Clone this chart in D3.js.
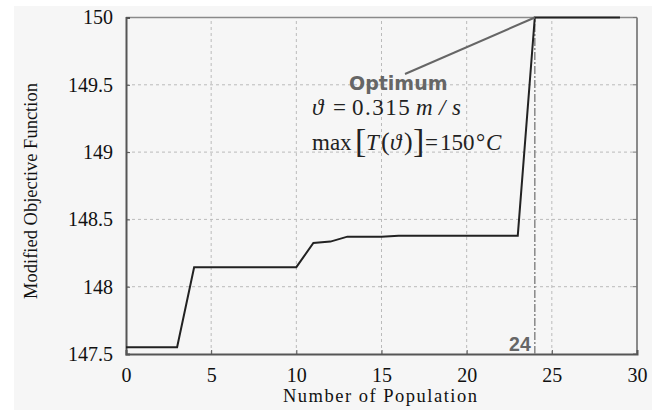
<!DOCTYPE html>
<head>
    <meta charset="utf-8">
    <script src="https://d3js.org/d3.v7.min.js"></script>
    <style>
        body {
            margin: 0;
            background: #ffffff;
        }
    </style>
</head>

<body>
<svg id="graph" width=661 height=410></svg>
<script>

    // population index and best objective value found so far
    const population = [0, 1, 2, 3, 4, 5, 6, 7, 8, 9, 10, 11, 12, 13, 14, 15,
        16, 17, 18, 19, 20, 21, 22, 23, 24, 25, 26, 27, 28, 29];
    const objective = [147.55, 147.55, 147.55, 147.55,
        148.145, 148.145, 148.145, 148.145, 148.145, 148.145, 148.145,
        148.325, 148.335, 148.372, 148.372, 148.372,
        148.379, 148.379, 148.379, 148.379, 148.379, 148.379, 148.379, 148.379,
        150, 150, 150, 150, 150, 150];

    const xTicks = [0, 5, 10, 15, 20, 25, 30];
    const yTicks = [147.5, 148, 148.5, 149, 149.5, 150];
    const optimumX = 24;
    const optimumY = 150;
    const pointerFrom = [16.38, 149.58];

    const serif = "'Liberation Serif', 'Times New Roman', serif";
    const margin = {top: 17.5, right: 24, bottom: 56, left: 126};
    const W = 661, H = 410;

    const svg = d3.select("#graph");

    // grey page panel
    svg.append("rect")
        .attr("x", 14).attr("y", 6)
        .attr("width", 638).attr("height", 404)
        .attr("fill", "#f6f6f6");

    const x = d3.scaleLinear()
        .domain([0, 30])
        .range([margin.left, W - margin.right]);

    const y = d3.scaleLinear()
        .domain([147.5, 150])
        .range([H - margin.bottom, margin.top]);

    // grid
    svg.append("g").selectAll("line")
        .data(xTicks.slice(1, -1)).enter()
        .append("line")
        .attr("x1", d => x(d)).attr("x2", d => x(d))
        .attr("y1", y(147.5)).attr("y2", y(150))
        .attr("stroke", "#bbb").attr("stroke-width", 1)
        .attr("stroke-dasharray", "3,3");

    svg.append("g").selectAll("line")
        .data(yTicks.slice(1, -1)).enter()
        .append("line")
        .attr("x1", x(0)).attr("x2", x(30))
        .attr("y1", d => y(d)).attr("y2", d => y(d))
        .attr("stroke", "#bbb").attr("stroke-width", 1)
        .attr("stroke-dasharray", "3,3");

    // frame: top/right lighter, left/bottom darker
    svg.append("line")
        .attr("x1", x(0)).attr("x2", x(30))
        .attr("y1", y(150)).attr("y2", y(150))
        .attr("stroke", "#8a8a8a").attr("stroke-width", 1.5);
    svg.append("line")
        .attr("x1", x(30)).attr("x2", x(30))
        .attr("y1", y(150)).attr("y2", y(147.5))
        .attr("stroke", "#8a8a8a").attr("stroke-width", 2);

    // inward ticks on right side
    svg.append("g").selectAll("line")
        .data(yTicks).enter()
        .append("line")
        .attr("x1", x(30) - 4).attr("x2", x(30))
        .attr("y1", d => y(d)).attr("y2", d => y(d))
        .attr("stroke", "#777");

    const xAxis = d3.axisBottom(x).tickValues(xTicks).tickSize(-4)
        .tickFormat(d => String(d));
    const yAxis = d3.axisLeft(y).tickValues(yTicks).tickSize(-4).tickPadding(13)
        .tickFormat(d => String(d));

    const gx = svg.append("g")
        .attr("transform", "translate(0," + y(147.5) + ")")
        .call(xAxis);
    const gy = svg.append("g")
        .attr("transform", "translate(" + x(0) + ",0)")
        .call(yAxis);

    [gx, gy].forEach(function (g) {
        g.select(".domain").attr("stroke", "#555").attr("stroke-width", 2);
        g.selectAll(".tick line").attr("stroke", "#555");
        g.selectAll(".tick text")
            .attr("fill", "#111")
            .style("font-family", serif)
            .style("font-size", "20px");
    });
    gx.selectAll(".tick text").attr("dy", null).attr("y", 28);

    // axis labels
    svg.append("text")
        .attr("x", 380)
        .attr("y", 402)
        .attr("text-anchor", "middle")
        .attr("textLength", 194)
        .attr("lengthAdjust", "spacing")
        .style("font-family", serif)
        .style("font-size", "18.5px")
        .attr("fill", "#111")
        .text("Number of Population");

    svg.append("text")
        .attr("transform", "translate(37,191) rotate(-90)")
        .attr("text-anchor", "middle")
        .style("font-family", serif)
        .style("font-size", "18.5px")
        .attr("fill", "#111")
        .text("Modified Objective Function");

    // optimum marker
    svg.append("line")
        .attr("x1", x(optimumX)).attr("x2", x(optimumX))
        .attr("y1", y(147.5)).attr("y2", y(150))
        .attr("stroke", "#888").attr("stroke-width", 1.5)
        .attr("stroke-dasharray", "8,2,2,2");

    svg.append("text")
        .attr("x", x(optimumX) - 4)
        .attr("y", y(147.5) - 3.5)
        .attr("text-anchor", "end")
        .attr("fill", "#666")
        .style("font-family", "'Liberation Sans', Arial, sans-serif")
        .style("font-weight", "bold")
        .style("font-size", "19.5px")
        .text(optimumX);

    // curve
    const line = d3.line()
        .x(d => x(d[0]))
        .y(d => y(d[1]));

    svg.append("path")
        .datum(population.map((p, i) => [p, objective[i]]))
        .attr("d", line)
        .attr("fill", "none")
        .attr("stroke", "#222")
        .attr("stroke-width", 2);

    // annotation pointer
    svg.append("line")
        .attr("x1", x(pointerFrom[0])).attr("y1", y(pointerFrom[1]))
        .attr("x2", x(optimumX)).attr("y2", y(optimumY))
        .attr("stroke", "#666").attr("stroke-width", 2);

    svg.append("text")
        .attr("x", 349)
        .attr("y", 90)
        .attr("fill", "#666")
        .style("font-family", "'DejaVu Sans', sans-serif")
        .style("font-weight", "bold")
        .style("font-size", "19px")
        .text("Optimum");

    // equation lines, set piece by piece like the typeset original
    function mathLine(yBase, parts) {
        const t = svg.append("text").attr("y", yBase)
            .attr("fill", "#222")
            .style("font-family", serif).style("font-size", "23px");
        parts.forEach(function (p) {
            const s = t.append("tspan").attr("x", p.x).text(p.t);
            if (p.it) s.style("font-style", "italic");
            if (p.fs) s.style("font-size", p.fs + "px");
            if (p.ls) s.style("letter-spacing", p.ls + "px");
            s.attr("y", yBase + (p.dy || 0));
        });
    }

    mathLine(115, [
        {t: "ϑ", x: 312, it: true},
        {t: "=", x: 333},
        {t: "0.315", x: 352, ls: 1.5},
        {t: "m", x: 416, it: true},
        {t: "/", x: 439, it: true},
        {t: "s", x: 452, it: true}
    ]);

    mathLine(150, [
        {t: "max", x: 312},
        {t: "[", x: 355, fs: 34, dy: 2},
        {t: "T", x: 366, it: true},
        {t: "(", x: 381, fs: 26},
        {t: "ϑ", x: 390, it: true},
        {t: ")", x: 404, fs: 26},
        {t: "]", x: 413, fs: 34, dy: 2},
        {t: "=", x: 425},
        {t: "150", x: 440},
        {t: "°", x: 476},
        {t: "C", x: 486, it: true}
    ]);

</script>

</body>
